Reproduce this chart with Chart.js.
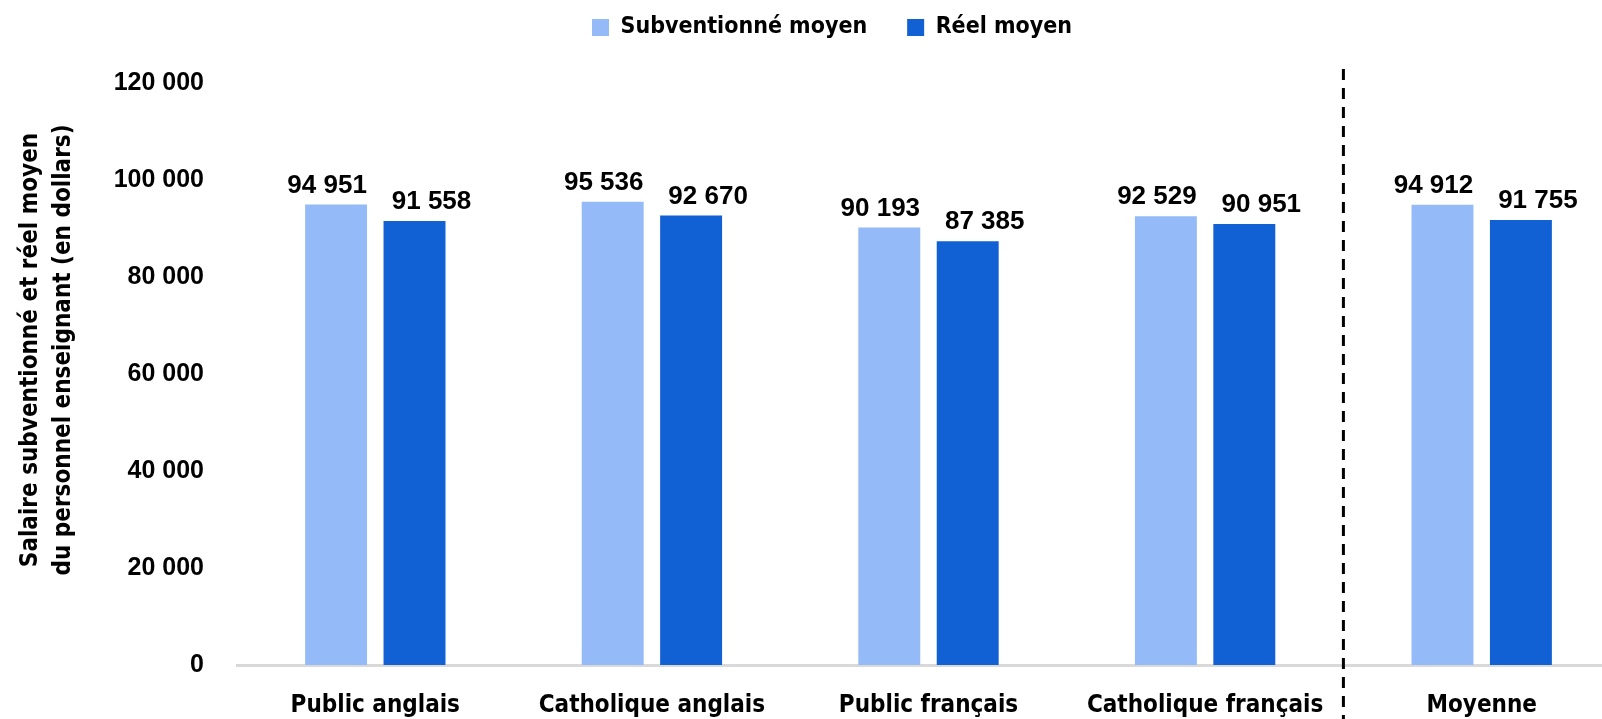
<!DOCTYPE html>
<html>
<head>
<meta charset="utf-8">
<script src="https://cdn.jsdelivr.net/npm/chart.js@4/dist/chart.umd.min.js"></script>
<style>
  html, body { margin: 0; padding: 0; background: #fff; overflow: hidden; }
  #wrap { width: 1620px; height: 719px; }
</style>
</head>
<body>
<div id="wrap"><canvas id="bar-chart"></canvas></div>
<script>
// salaires moyens par type de conseil
var categories = ["Public anglais", "Catholique anglais", "Public français", "Catholique français", "Moyenne"];
var subventionne = [94951, 95536, 90193, 92529, 94912];
var reel = [91558, 92670, 87385, 90951, 91755];
var yTicks = [0, 20000, 40000, 60000, 80000, 100000, 120000];
var yTitle = ["Salaire subventionné et réel moyen", "du personnel enseignant (en dollars)"];

var narrow = "'Liberation Sans Narrow', 'DejaVu Sans Condensed', 'Liberation Sans', sans-serif";
var arial = "'Liberation Sans', Arial, sans-serif";

// décalage horizontal des étiquettes (comme dans l'original)
var labelShift = [-9, 17];

function fmt(v) {
  return String(v).replace(/\B(?=(\d{3})+(?!\d))/g, " ");
}

// valeurs au-dessus des barres + ligne pointillée avant "Moyenne" + titre axe y
var extras = {
  id: 'extras',
  afterLayout: function(chart) {
    // légende un peu à droite du centre
    chart.legend.left += 17;
    chart.legend.right += 17;
  },
  afterDatasetsDraw: function(chart) {
    var c = chart.ctx;
    c.save();
    c.font = "bold 26px " + arial;
    c.fillStyle = "#000";
    c.textAlign = "center";
    c.textBaseline = "bottom";
    chart.data.datasets.forEach(function(ds, i) {
      chart.getDatasetMeta(i).data.forEach(function(bar, j) {
        c.fillText(fmt(ds.data[j]), bar.x + labelShift[i], bar.y - 6);
      });
    });
    var xs = chart.scales.x;
    var xd = (xs.getPixelForTick(3) + xs.getPixelForTick(4)) / 2;
    c.strokeStyle = "#000";
    c.lineWidth = 3;
    c.setLineDash([11, 8]);
    c.beginPath();
    c.moveTo(xd, 69);
    c.lineTo(xd, chart.height);
    c.stroke();
    c.setLineDash([]);

    c.translate(0, 350);
    c.rotate(-Math.PI / 2);
    c.font = "bold 24px " + narrow;
    c.textBaseline = "middle";
    c.fillText(yTitle[0], 0, 31);
    c.fillText(yTitle[1], 0, 64);
    c.restore();
  }
};

var ctx = document.getElementById("bar-chart");

var barChart = new Chart(ctx, {
  type: 'bar',
  data: {
    labels: categories,
    datasets: [
      {
        label: "Subventionné moyen",
        data: subventionne,
        backgroundColor: '#94bbf7'
      },
      {
        label: "Réel moyen",
        data: reel,
        backgroundColor: '#1160d4'
      }
    ]
  },
  plugins: [extras],
  options: {
    responsive: true,
    maintainAspectRatio: false,
    animation: false,
    layout: { padding: { left: 10, right: 0, top: -24, bottom: 0 } },
    categoryPercentage: 0.567,
    barPercentage: 0.79,
    plugins: {
      tooltip: { enabled: false },
      legend: {
        position: 'top',
        labels: {
          color: '#000',
          font: { family: narrow, size: 23, weight: 'bold' },
          boxWidth: 17,
          boxHeight: 17,
          padding: 40
        }
      },
      // espace vide sous la légende
      subtitle: {
        display: true,
        text: '',
        weight: 500,
        font: { size: 10 },
        padding: { top: 0, bottom: 22 }
      }
    },
    scales: {
      x: {
        grid: { display: false, drawTicks: false },
        border: { color: '#d9d9d9', width: 3 },
        ticks: {
          color: '#000',
          font: { family: narrow, size: 24, weight: 'bold' },
          padding: 26,
          maxRotation: 0
        },
        afterFit: function(s) { s.height = 54; }
      },
      y: {
        min: 0,
        max: 120000,
        afterBuildTicks: function(s) {
          s.ticks = yTicks.map(function(v) { return { value: v }; });
        },
        grid: { display: false, drawTicks: false },
        border: { display: false },
        ticks: {
          color: '#000',
          font: { family: arial, size: 25, weight: 'bold' },
          padding: 33,
          callback: function(v) { return fmt(v); }
        },
        afterFit: function(s) { s.width = 227; }
      }
    }
  }
});
</script>
</body>
</html>
